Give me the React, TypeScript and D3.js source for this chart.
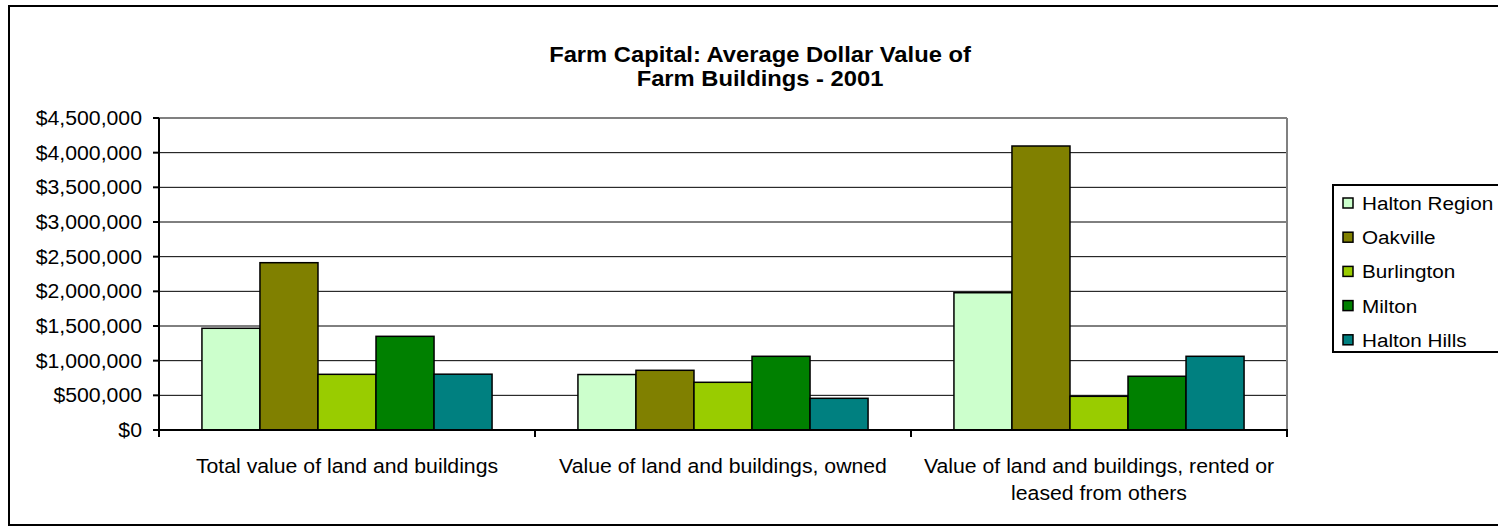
import React from "react";
import * as d3 from "d3";

const titleLines = ["Farm Capital: Average Dollar Value of", "Farm Buildings - 2001"];
const categoryLabels: string[][] = [
  ["Total value of land and buildings"],
  ["Value of land and buildings, owned"],
  ["Value of land and buildings, rented or", "leased from others"],
];
const seriesNames = ["Halton Region", "Oakville", "Burlington", "Milton", "Halton Hills"];
const seriesColors = ["#CCFFCC", "#808000", "#99CC00", "#008000", "#008080"];
const haltonRegion = [1467000, 800000, 1980000];
const oakville = [2413000, 861000, 4096000];
const burlington = [803000, 688000, 486000];
const milton = [1351000, 1063000, 775000];
const haltonHills = [805000, 457000, 1063000];
const yTicks = [0, 500000, 1000000, 1500000, 2000000, 2500000, 3000000, 3500000, 4000000, 4500000];

const seriesValues = [haltonRegion, oakville, burlington, milton, haltonHills];

const W = 1498;
const H = 527;
const plot = { left: 159, right: 1287, top: 118, bottom: 430 };
const FONT = "'Liberation Sans', Arial, sans-serif";
const SX = 1.09;

export default function App() {
  const x = d3
    .scaleBand<number>()
    .domain(categoryLabels.map((_, i) => i))
    .range([plot.left, plot.right])
    .padding(0);
  const xs = d3
    .scaleBand<number>()
    .domain(seriesNames.map((_, i) => i))
    .range([0, x.bandwidth()])
    .paddingInner(0)
    .paddingOuter(0.74);
  const y = d3.scaleLinear().domain([0, 4500000]).range([plot.bottom, plot.top]);
  const fmt = d3.format("$,");
  const catEdges = categoryLabels.map((_, i) => x(i)!).concat([plot.right]);

  return (
    <svg
      width={W}
      height={H}
      style={{ position: "absolute", left: 0, top: 0, background: "#fff" }}
      fontFamily={FONT}
    >
      <rect x={0} y={0} width={W} height={H} fill="#fff" />
      {/* outer border */}
      <rect x={9} y={6} width={1502} height={519} fill="none" stroke="#000" strokeWidth={2} />

      {/* title */}
      {titleLines.map((t, i) => (
        <text
          key={i}
          transform={`translate(760,${62 + i * 24}) scale(1.08,1)`}
          textAnchor="middle"
          fontWeight="bold"
          fontSize={22}
          fill="#000"
        >
          {t}
        </text>
      ))}

      {/* gridlines */}
      {yTicks.map((t) => (
        <line
          key={t}
          x1={plot.left}
          x2={plot.right}
          y1={y(t)}
          y2={y(t)}
          stroke={t === 4500000 ? "#808080" : "#000"}
          strokeWidth={t === 4500000 ? 2 : 1}
        />
      ))}
      {/* right plot border */}
      <line x1={plot.right} x2={plot.right} y1={plot.top} y2={plot.bottom} stroke="#808080" strokeWidth={2} />

      {/* bars */}
      {seriesValues.map((vals, s) =>
        vals.map((v, c) => (
          <rect
            key={`${s}-${c}`}
            x={x(c)! + xs(s)!}
            y={y(v)}
            width={xs.bandwidth()}
            height={plot.bottom - y(v)}
            fill={seriesColors[s]}
            stroke="#000"
            strokeWidth={1.5}
          />
        ))
      )}

      {/* y axis */}
      <line x1={plot.left} x2={plot.left} y1={plot.top} y2={plot.bottom + 1} stroke="#000" strokeWidth={2} />
      {yTicks.map((t) => (
        <g key={t}>
          <line x1={plot.left - 6} x2={plot.left} y1={y(t)} y2={y(t)} stroke="#000" strokeWidth={2} />
          <text
            transform={`translate(142,${y(t) + 7}) scale(${SX},1)`}
            textAnchor="end"
            fontSize={19.5}
            fill="#000"
          >
            {fmt(t)}
          </text>
        </g>
      ))}

      {/* x axis */}
      <line x1={plot.left - 1} x2={plot.right + 1} y1={plot.bottom} y2={plot.bottom} stroke="#000" strokeWidth={2} />
      {catEdges.map((e, i) => (
        <line key={i} x1={e} x2={e} y1={plot.bottom} y2={plot.bottom + 7} stroke="#000" strokeWidth={2} />
      ))}
      {categoryLabels.map((lines, c) =>
        lines.map((l, j) => (
          <text
            key={`${c}-${j}`}
            transform={`translate(${x(c)! + x.bandwidth() / 2},${473 + j * 27}) scale(${SX},1)`}
            textAnchor="middle"
            fontSize={19.5}
            fill="#000"
          >
            {l}
          </text>
        ))
      )}

      {/* legend */}
      <rect x={1333} y={185} width={200} height={167} fill="#fff" stroke="#000" strokeWidth={2} />
      {seriesNames.map((n, i) => (
        <g key={n}>
          <rect
            x={1343}
            y={198 + i * 34.2}
            width={10}
            height={10}
            fill={seriesColors[i]}
            stroke="#000"
            strokeWidth={1.5}
          />
          <text
            transform={`translate(1362,${210 + i * 34.2}) scale(${SX},1)`}
            fontSize={19}
            fill="#000"
          >
            {n}
          </text>
        </g>
      ))}
    </svg>
  );
}
